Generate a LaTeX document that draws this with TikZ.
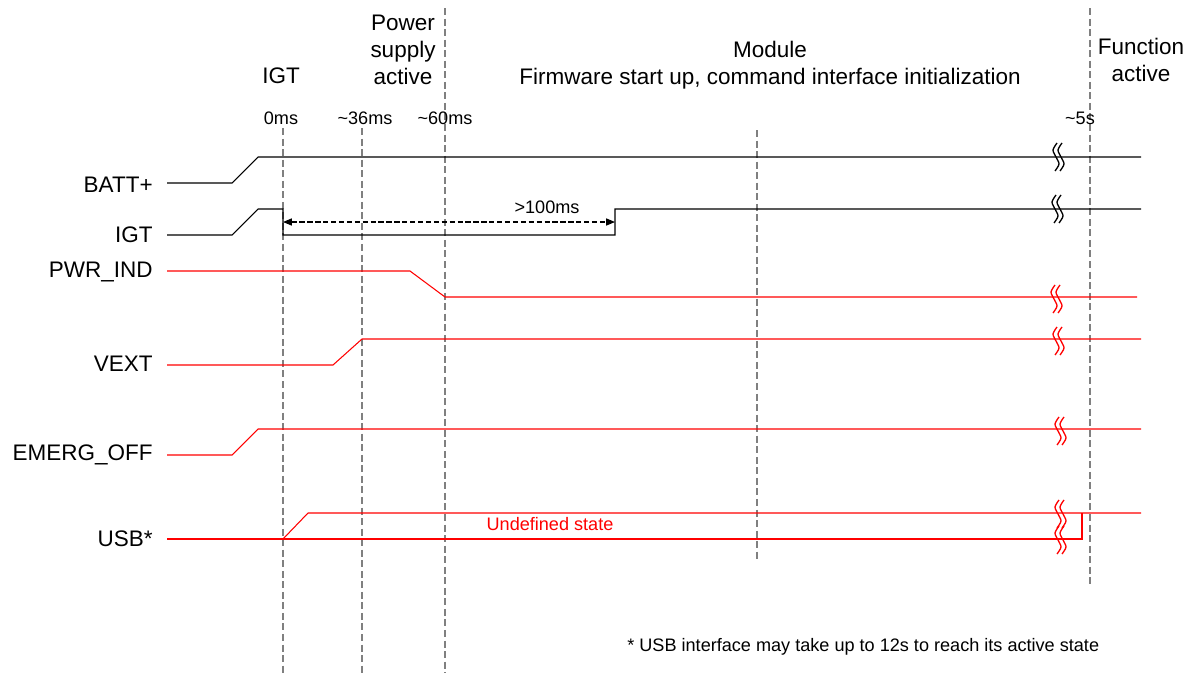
\documentclass[tikz,border=0pt]{standalone}
\usepackage{fontspec}
\setmainfont{Liberation Sans}
\usetikzlibrary{arrows.meta}
\tikzset{
  wave/.style={line width=0.6pt},
  grid/.style={draw=gray, dash pattern=on 4pt off 2pt, line width=0.6pt},
  big/.style={font=\fontsize{12.8}{15.3}\selectfont, align=center, inner sep=0pt},
  small/.style={font=\fontsize{10.3}{12}\selectfont, inner sep=0pt},
  brk/.pic={
    \foreach \dx in {0,5}
      \draw[line width=0.75pt] plot[smooth] coordinates {(\dx+2,-14) (\dx-2,-7) (\dx+1,0) (\dx+4,7) (\dx,14)};
  }
}
\begin{document}
\begin{tikzpicture}[x=0.02cm, y=-0.02cm]
\useasboundingbox (0,0) rectangle (1196,673);
% time markers
\draw[grid] (283,128) -- (283,673);
\draw[grid] (362,128) -- (362,673);
\draw[grid] (445,8) -- (445,673);
\draw[grid] (757,130) -- (757,560);
\draw[grid] (1090,8) -- (1090,585);
\node[big] (hIGT) at (281,76) {IGT};
\node[big] (hPwr) at (403,50) {Power\\supply\\active};
\node[big] (hMod) at (770,65) {Module\\Firmware start up, command interface initialization};
\node[big] (hFun) at (1141,60) {Function\\active};
\node[small] (t0) at (281,118) {0ms};
\node[small] (t36) at (365,118) {\char`\~36ms};
\node[small] (t60) at (445,118) {\char`\~60ms};
\node[small] (t5) at (1080,118) {\char`\~5s};
% signal names
\node[big, anchor=east] (nBatt) at (153,185) {BATT+};
\node[big, anchor=east] (nIgt) at (153,235) {IGT};
\node[big, anchor=east] (nPwr) at (153,272) {PWR\_IND};
\node[big, anchor=east] (nVext) at (153,364) {VEXT};
\node[big, anchor=east] (nEmg) at (153,455) {EMERG\_OFF};
\node[big, anchor=east] (nUsb) at (153,539) {USB*};
% BATT+
\draw[wave] (167,183) -- (232,183) -- (258,157) -- (1141,157);
\pic at (1055,157) {brk};
% IGT
\coordinate (igtL) at (283,222);
\coordinate (igtR) at (615,222);
\draw[wave] (167,235) -- (232,235) -- (258,209) -- (283,209) -- (283,235) -- (615,235) -- (615,209) -- (1141,209);
\pic at (1054,209) {brk};
\draw[wave, dash pattern=on 3pt off 1.5pt, {Triangle[length=5pt,width=4pt]}-{Triangle[length=5pt,width=4pt]}] (igtL) -- (igtR);
\node[small] (tDelay) at (547,207) {>100ms};
% PWR_IND
\draw[wave, red] (167,271) -- (410,271) -- (445,297) -- (1137,297);
\pic[red] at (1053,299) {brk};
% VEXT
\draw[wave, red] (167,365) -- (333,365) -- (362,339) -- (1141,339);
\pic[red] at (1055,341) {brk};
% EMERG_OFF
\draw[wave, red] (167,455) -- (232,455) -- (258,429) -- (1141,429);
\pic[red] at (1057,431) {brk};
% USB
\draw[wave, red] (167,539) -- (1082,539) -- (1082,513);
\draw[wave, red] (283,539) -- (308,513) -- (1141,513);
\pic[red] at (1057,514) {brk};
\pic[red] at (1057,540) {brk};
\node[small, red] (uState) at (550,524) {Undefined state};
% footnote
\node[small, anchor=west] (note) at (627,647) {* USB interface may take up to 12s to reach its active state};
\end{tikzpicture}
\end{document}
